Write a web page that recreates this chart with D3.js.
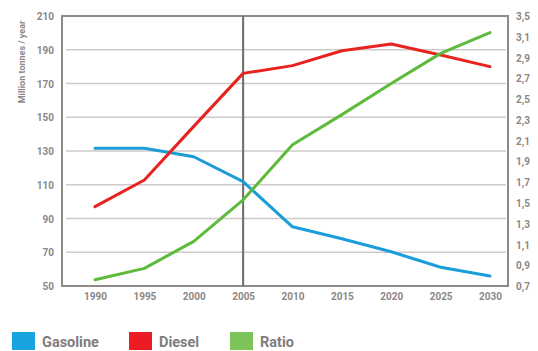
<!DOCTYPE html>
<html>
<head>
<meta charset="utf-8">
<script src="https://cdn.jsdelivr.net/npm/d3@7"></script>
<style>
  html, body { margin: 0; padding: 0; background: #fff; }
  svg { display: block; }
  text { font-family: Roboto, "DejaVu Sans", sans-serif; }
</style>
</head>
<body>
<svg id="chart" width="538" height="351"></svg>
<script>
// Road fuel demand, million tonnes per year, and the diesel/gasoline ratio
const years = [1990, 1995, 2000, 2005, 2010, 2015, 2020, 2025, 2030];
const gasoline = [131.6, 131.6, 126.6, 111.8, 85.1, 78.0, 70.3, 61.1, 55.9];
const diesel = [97.0, 112.8, 144.6, 176.0, 180.6, 189.4, 193.4, 186.9, 180.0];
const ratio = [0.76, 0.87, 1.13, 1.53, 2.06, 2.35, 2.65, 2.94, 3.14];

const leftTicks = [50, 70, 90, 110, 130, 150, 170, 190, 210];
const rightTicks = [0.7, 0.9, 1.1, 1.3, 1.5, 1.7, 1.9, 2.1, 2.3, 2.5, 2.7, 2.9, 3.1, 3.3];
const rightTickLabels = ["0,7", "0,9", "1,1", "1,3", "1,5", "1,7", "1,9", "2,1", "2,3", "2,5", "2,7", "2,9", "3,1", "3,5"];
const yTitle = "Million tonnes / year";
const markerYear = 2005;

const seriesNames = ["Gasoline", "Diesel", "Ratio"];
const lineColors = ["#1b9dd9", "#e8231f", "#5dba3b"];
const swatchColors = ["#17a3de", "#ed1c24", "#7cc35a"];

const svg = d3.select("#chart");
const plot = { left: 62, right: 508, top: 16, bottom: 286 };

const x = d3.scaleLinear().domain([1990, 2030]).range([95, 490]);
const yLeft = d3.scaleLinear().domain([50, 210]).range([plot.bottom, plot.top]);
const yRight = d3.scaleLinear().domain([0.7, 3.3]).range([plot.bottom, plot.top]);

// horizontal grid lines
svg.append("g")
  .selectAll("line")
  .data(leftTicks.filter(t => t > 50 && t < 210))
  .join("line")
  .attr("x1", plot.left + 4).attr("x2", plot.right - 2)
  .attr("y1", d => yLeft(d)).attr("y2", d => yLeft(d))
  .attr("stroke", "#cfcaca").attr("stroke-width", 1.6);

// plot frame
svg.append("rect")
  .attr("x", plot.left).attr("y", plot.top)
  .attr("width", plot.right - plot.left).attr("height", plot.bottom - plot.top)
  .attr("fill", "none").attr("stroke", "#8f8a8a").attr("stroke-width", 2);

// left axis
const leftAxis = d3.axisLeft(yLeft).tickValues(leftTicks).tickSize(0).tickPadding(0);
const gL = svg.append("g").attr("transform", `translate(54,0)`).call(leftAxis);
gL.select(".domain").remove();
gL.selectAll("text")
  .attr("fill", "#8a8787").attr("font-size", 10).attr("font-weight", 700)
  .attr("dy", "0.36em");

// right axis
const rightAxis = d3.axisRight(yRight).tickValues(rightTicks)
  .tickFormat((d, i) => rightTickLabels[i]).tickSize(0).tickPadding(0);
const gR = svg.append("g").attr("transform", `translate(516,0)`).call(rightAxis);
gR.select(".domain").remove();
gR.selectAll("text")
  .attr("fill", "#8a8787").attr("font-size", 10).attr("font-weight", 700)
  .attr("dy", "0.36em");

// bottom axis
const bottomAxis = d3.axisBottom(x).tickValues(years).tickFormat(d3.format("d"))
  .tickSize(0).tickPadding(0);
const gB = svg.append("g").attr("transform", `translate(0,293)`).call(bottomAxis);
gB.select(".domain").remove();
gB.selectAll("text")
  .attr("fill", "#8a8787").attr("font-size", 10).attr("font-weight", 700)
  .attr("dy", "0.71em");

// y-axis title
svg.append("text")
  .attr("transform", "translate(25,62) rotate(-90)")
  .attr("text-anchor", "middle")
  .attr("fill", "#8a8787").attr("font-size", 9).attr("font-weight", 700)
  .text(yTitle);

// marker line at the base year
svg.append("line")
  .attr("x1", x(markerYear)).attr("x2", x(markerYear))
  .attr("y1", plot.top).attr("y2", plot.bottom)
  .attr("stroke", "#6f6a6a").attr("stroke-width", 2);

// series lines
const lineLeft = d3.line().x((d, i) => x(years[i])).y(d => yLeft(d));
const lineRight = d3.line().x((d, i) => x(years[i])).y(d => yRight(d));
const lines = [
  { values: gasoline, gen: lineLeft, color: lineColors[0] },
  { values: diesel, gen: lineLeft, color: lineColors[1] },
  { values: ratio, gen: lineRight, color: lineColors[2] }
];
svg.append("g").selectAll("path")
  .data(lines)
  .join("path")
  .attr("d", d => d.gen(d.values))
  .attr("fill", "none")
  .attr("stroke", d => d.color)
  .attr("stroke-width", 3)
  .attr("stroke-linejoin", "round")
  .attr("stroke-linecap", "round");

// legend
const legendX = [12, 129, 230];
const legend = svg.append("g").selectAll("g")
  .data(seriesNames)
  .join("g")
  .attr("transform", (d, i) => `translate(${legendX[i]},332)`);
legend.append("rect")
  .attr("width", 23).attr("height", 18)
  .attr("fill", (d, i) => swatchColors[i]);
legend.append("text")
  .attr("x", 30).attr("y", 14.5)
  .attr("fill", "#7f7c7d").attr("font-size", 14.5).attr("font-weight", 700)
  .text(d => d);
</script>
</body>
</html>
